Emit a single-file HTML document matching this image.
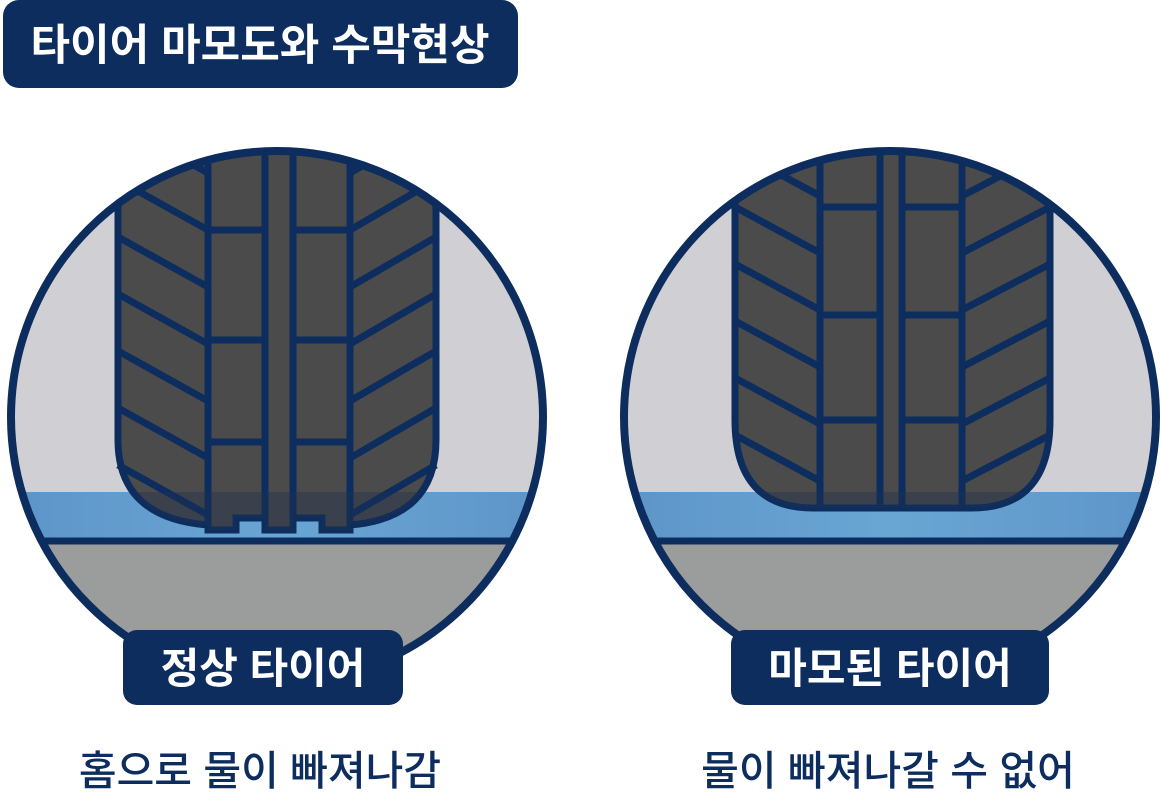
<!DOCTYPE html>
<html><head><meta charset="utf-8"><style>
html,body{margin:0;padding:0;background:#fff;width:1162px;height:800px;overflow:hidden}
svg{display:block}
text{font-family:"Liberation Sans","Noto Sans CJK KR",sans-serif}
</style></head><body>
<svg width="1162" height="800" viewBox="0 0 1162 800" xmlns="http://www.w3.org/2000/svg">
<defs>
<clipPath id="c1"><circle cx="277" cy="417" r="266"/></clipPath>
<clipPath id="c2"><circle cx="890" cy="417" r="266"/></clipPath>
<clipPath id="t1"><path d="M118 130 H436 V440 Q436 518 350 525 V530 H322 V518 H293 V530 H265 V518 H236 V530 H208 V525 Q118 518 118 440 Z"/></clipPath>
<clipPath id="t2"><path d="M735 130 H1050 V420 Q1050 508 972 508 H813 Q735 508 735 420 Z"/></clipPath>
<linearGradient id="w" x1="0" y1="0" x2="1" y2="0">
<stop offset="0" stop-color="#5d94c8"/><stop offset="0.5" stop-color="#69a6d4"/><stop offset="1" stop-color="#5d94c8"/></linearGradient>
</defs>

<!-- title -->
<rect x="3" y="0" width="515" height="88" rx="16" fill="#0d2d5e"/>
<text x="260" y="60" font-size="43" font-weight="bold" fill="#fff" text-anchor="middle">타이어 마모도와 수막현상</text>

<!-- LEFT -->
<g clip-path="url(#c1)">
<rect x="0" y="140" width="560" height="560" fill="#d0d0d4"/>
<rect x="0" y="492" width="560" height="49" fill="url(#w)"/>
<rect x="0" y="541" width="560" height="200" fill="#9b9c9c"/>
<g stroke="#0d2d5e" stroke-width="7" fill="#4b4b4b">
<path d="M118 130 H436 V440 Q436 518 350 525 V530 H322 V518 H293 V530 H265 V518 H236 V530 H208 V525 Q118 518 118 440 Z"/>
<line x1="208" y1="130" x2="208" y2="528"/>
<line x1="265" y1="130" x2="265" y2="528"/>
<line x1="293" y1="130" x2="293" y2="528"/>
<line x1="350" y1="130" x2="350" y2="528"/>
<line x1="208" y1="230" x2="265" y2="230"/><line x1="293" y1="230" x2="350" y2="230"/>
<line x1="208" y1="340" x2="265" y2="340"/><line x1="293" y1="340" x2="350" y2="340"/>
<line x1="208" y1="442" x2="265" y2="442"/><line x1="293" y1="442" x2="350" y2="442"/>
<g fill="none">
<line x1="118" y1="123" x2="208" y2="173"/><line x1="118" y1="180" x2="208" y2="230"/>
<line x1="118" y1="237" x2="208" y2="287"/><line x1="118" y1="294" x2="208" y2="344"/>
<line x1="118" y1="351" x2="208" y2="401"/><line x1="118" y1="408" x2="208" y2="458"/>
<line x1="118" y1="465" x2="208" y2="515"/>
<line x1="436" y1="123" x2="350" y2="173"/><line x1="436" y1="180" x2="350" y2="230"/>
<line x1="436" y1="237" x2="350" y2="287"/><line x1="436" y1="294" x2="350" y2="344"/>
<line x1="436" y1="351" x2="350" y2="401"/><line x1="436" y1="408" x2="350" y2="458"/>
<line x1="436" y1="465" x2="350" y2="515"/>
</g></g>
<rect x="0" y="492" width="560" height="49" fill="#1c3050" opacity="0.35" clip-path="url(#t1)"/>
<line x1="0" y1="541" x2="560" y2="541" stroke="#0d2d5e" stroke-width="7"/>
</g>
<circle cx="277" cy="417" r="266" fill="none" stroke="#0d2d5e" stroke-width="8"/>

<!-- RIGHT -->
<g clip-path="url(#c2)">
<rect x="610" y="140" width="560" height="560" fill="#d0d0d4"/>
<rect x="610" y="492" width="560" height="49" fill="url(#w)"/>
<rect x="610" y="541" width="560" height="200" fill="#9b9c9c"/>
<g stroke="#0d2d5e" stroke-width="7" fill="#4b4b4b">
<path d="M735 130 H1050 V420 Q1050 508 972 508 H813 Q735 508 735 420 Z"/>
<line x1="820" y1="130" x2="820" y2="506"/>
<line x1="880" y1="130" x2="880" y2="506"/>
<line x1="902" y1="130" x2="902" y2="506"/>
<line x1="962" y1="130" x2="962" y2="506"/>
<line x1="820" y1="207" x2="880" y2="207"/><line x1="902" y1="207" x2="962" y2="207"/>
<line x1="820" y1="315" x2="880" y2="315"/><line x1="902" y1="315" x2="962" y2="315"/>
<line x1="820" y1="420" x2="880" y2="420"/><line x1="902" y1="420" x2="962" y2="420"/>
<g fill="none">
<line x1="735" y1="150" x2="820" y2="196"/><line x1="735" y1="207" x2="820" y2="253"/>
<line x1="735" y1="264" x2="820" y2="310"/><line x1="735" y1="321" x2="820" y2="367"/>
<line x1="735" y1="378" x2="820" y2="424"/><line x1="735" y1="435" x2="820" y2="481"/>
<line x1="1050" y1="150" x2="962" y2="196"/><line x1="1050" y1="207" x2="962" y2="253"/>
<line x1="1050" y1="264" x2="962" y2="310"/><line x1="1050" y1="321" x2="962" y2="367"/>
<line x1="1050" y1="378" x2="962" y2="424"/><line x1="1050" y1="435" x2="962" y2="481"/>
</g></g>
<rect x="610" y="492" width="560" height="49" fill="#1c3050" opacity="0.35" clip-path="url(#t2)"/>
<line x1="610" y1="541" x2="1170" y2="541" stroke="#0d2d5e" stroke-width="7"/>
</g>
<circle cx="890" cy="417" r="266" fill="none" stroke="#0d2d5e" stroke-width="8"/>

<!-- labels -->
<rect x="123" y="630" width="280" height="75" rx="14" fill="#0d2d5e"/>
<text x="263" y="683" font-size="42" font-weight="bold" fill="#fff" text-anchor="middle">정상 타이어</text>
<rect x="731" y="630" width="318" height="75" rx="14" fill="#0d2d5e"/>
<text x="890" y="683" font-size="42" font-weight="bold" fill="#fff" text-anchor="middle">마모된 타이어</text>

<text x="260" y="785" font-size="41" font-weight="500" fill="#0d2d5e" text-anchor="middle">홈으로 물이 빠져나감</text>
<text x="888" y="785" font-size="41" font-weight="500" fill="#0d2d5e" text-anchor="middle">물이 빠져나갈 수 없어</text>
</svg>
</body></html>
